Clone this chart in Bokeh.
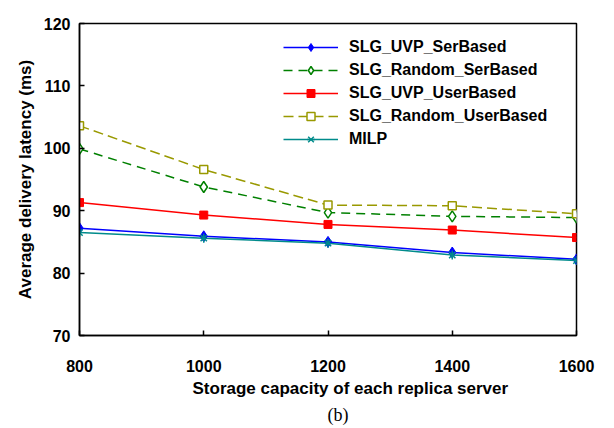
import math
from bokeh.plotting import figure
from bokeh.models import Legend, LegendItem, Title, Range1d, FixedTicker
from bokeh.embed import file_html
from bokeh.resources import INLINE

# ---- data ----
capacity = [800, 1000, 1200, 1400, 1600]
slg_uvp_serbased = [87.2, 85.9, 85.0, 83.3, 82.2]
slg_random_serbased = [99.9, 93.8, 89.7, 89.1, 88.9]
slg_uvp_userbased = [91.3, 89.3, 87.8, 86.9, 85.7]
slg_random_userbased = [103.6, 96.6, 90.9, 90.8, 89.5]
milp = [86.5, 85.6, 84.8, 82.9, 82.0]

series_names = ["SLG_UVP_SerBased", "SLG_Random_SerBased", "SLG_UVP_UserBased",
                "SLG_Random_UserBased", "MILP"]
x_ticks = [800, 1000, 1200, 1400, 1600]
y_ticks = [70, 80, 90, 100, 110, 120]

FONT = "Liberation Sans"

p = figure(width=614, height=428, x_range=Range1d(800, 1600), y_range=Range1d(70, 120),
           output_backend="svg", toolbar_location=None,
           min_border_left=79, min_border_right=38, min_border_top=23, min_border_bottom=93)
p.background_fill_color = "white"
p.border_fill_color = "white"
p.xgrid.visible = False
p.ygrid.visible = False
p.outline_line_color = "black"
p.outline_line_width = 1.5

for ax in (p.xaxis[0], p.yaxis[0]):
    ax.axis_line_color = "black"
    ax.axis_line_width = 1.5
    ax.major_tick_line_color = "black"
    ax.major_tick_line_width = 1.5
    ax.major_tick_in = 5
    ax.major_tick_out = 0
    ax.minor_tick_line_color = None
    ax.major_label_text_font = FONT
    ax.major_label_text_font_style = "bold"
    ax.major_label_text_font_size = "16px"
    ax.major_label_text_color = "black"

p.xaxis[0].ticker = FixedTicker(ticks=x_ticks)
p.yaxis[0].ticker = FixedTicker(ticks=y_ticks)
p.xaxis[0].major_label_standoff = 24
p.yaxis[0].major_label_standoff = 9

p.yaxis[0].axis_label = "Average delivery latency (ms)"
p.yaxis[0].axis_label_text_font = FONT
p.yaxis[0].axis_label_text_font_style = "bold"
p.yaxis[0].axis_label_text_font_size = "17px"
p.yaxis[0].axis_label_text_color = "black"
p.yaxis[0].axis_label_standoff = 6

items = []

# SLG_UVP_SerBased
r1 = p.line(capacity, slg_uvp_serbased, line_color="#0000FF", line_width=1.5)
m1 = p.scatter(capacity, slg_uvp_serbased, marker="diamond", size=11,
               fill_color="#0000FF", line_color="#0000FF")
items.append(LegendItem(label=series_names[0], renderers=[r1, m1]))

# SLG_Random_SerBased
r2 = p.line(capacity, slg_random_serbased, line_color="#008000", line_width=1.5, line_dash="9 6")
m2 = p.scatter(capacity, slg_random_serbased, marker="diamond", size=11,
               fill_color="white", line_color="#008000", line_width=1.5)
items.append(LegendItem(label=series_names[1], renderers=[r2, m2]))

# SLG_UVP_UserBased
r3 = p.line(capacity, slg_uvp_userbased, line_color="#FF0000", line_width=1.5)
m3 = p.scatter(capacity, slg_uvp_userbased, marker="square", size=8,
               fill_color="#FF0000", line_color="#FF0000")
items.append(LegendItem(label=series_names[2], renderers=[r3, m3]))

# SLG_Random_UserBased
r4 = p.line(capacity, slg_random_userbased, line_color="#999900", line_width=1.5, line_dash="10 5")
m4 = p.scatter(capacity, slg_random_userbased, marker="square", size=8,
               fill_color="white", line_color="#999900", line_width=1.5)
items.append(LegendItem(label=series_names[3], renderers=[r4, m4]))

# MILP
r5 = p.line(capacity, milp, line_color="#008B8B", line_width=1.5)
m5a = p.scatter(capacity, milp, marker="x", size=9, line_color="#008B8B", line_width=1.5)
m5b = p.scatter(capacity, milp, marker="dash", size=9, angle=math.pi / 2,
                line_color="#008B8B", line_width=1.5)
items.append(LegendItem(label=series_names[4], renderers=[r5, m5a, m5b]))

legend = Legend(items=items, location=(204, 186))
legend.label_text_font = FONT
legend.label_text_font_style = "bold"
legend.label_text_font_size = "16px"
legend.label_text_color = "black"
legend.glyph_width = 55
legend.glyph_height = 20
legend.label_height = 20
legend.label_standoff = 11
legend.spacing = 3
legend.padding = 0
legend.margin = 0
legend.border_line_alpha = 0
legend.background_fill_alpha = 0
p.add_layout(legend)

xt = Title(text="Storage capacity of each replica server", align="left", offset=113,
           text_font=FONT, text_font_style="bold", text_font_size="17px", standoff=4,
           text_color="black")
p.add_layout(xt, "below")
bt = Title(text="(b)", align="left", offset=248, text_font="Liberation Serif",
           text_font_style="normal", text_font_size="18px", standoff=6, text_color="black")
p.add_layout(bt, "below")

open("out.html", "w").write(file_html(p, INLINE))
